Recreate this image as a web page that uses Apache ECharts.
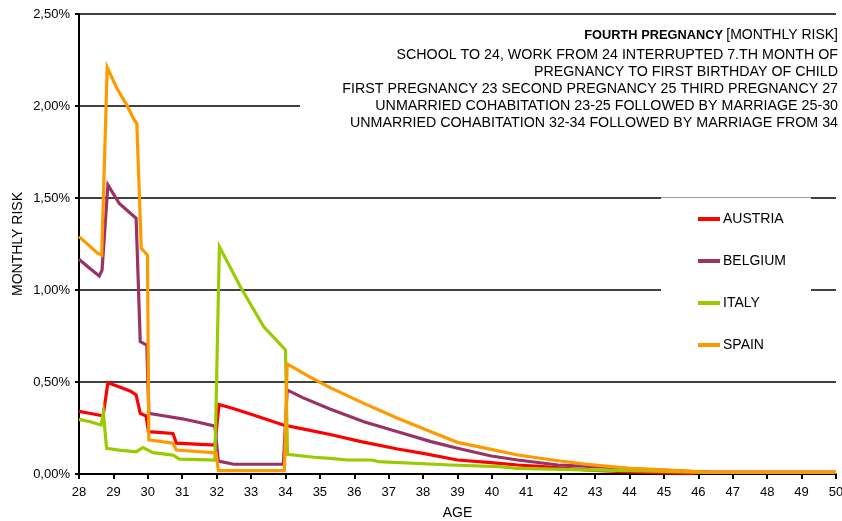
<!DOCTYPE html>
<html>
<head>
<meta charset="utf-8">
<script src="https://cdn.jsdelivr.net/npm/echarts@6/dist/echarts.min.js"></script>
<style>
html,body{margin:0;padding:0;background:#fff;}
#chart{width:842px;height:521px;}
</style>
</head>
<body>
<div id="chart"></div>
<script>
// ---- data (age in years, monthly risk in %) ----
const seriesNames = ['AUSTRIA', 'BELGIUM', 'ITALY', 'SPAIN'];

const austriaAge  = [28.0, 28.3, 28.64, 28.70, 28.84, 29.2, 29.5, 29.66, 29.78, 29.95, 30.02, 30.4, 30.73, 30.83, 31.4, 31.95, 32.07, 32.5, 33.0, 33.94, 34.5, 35.3, 36.2, 37.26, 38.0, 39.0, 39.98, 40.75, 41.5, 42.3, 43.0, 44.0, 45.0, 45.8, 46.0, 50.0];
const austriaRisk = [0.340, 0.330, 0.318, 0.315, 0.496, 0.472, 0.450, 0.430, 0.330, 0.315, 0.230, 0.225, 0.220, 0.168, 0.162, 0.157, 0.378, 0.355, 0.325, 0.266, 0.245, 0.215, 0.176, 0.136, 0.112, 0.076, 0.062, 0.049, 0.040, 0.028, 0.020, 0.012, 0.006, 0.003, 0.009, 0.009];

const belgiumAge  = [28.0, 28.3, 28.59, 28.67, 28.84, 29.17, 29.66, 29.78, 29.97, 30.03, 30.5, 31.0, 31.5, 31.95, 32.05, 32.5, 33.94, 34.05, 34.5, 35.31, 36.28, 37.26, 38.23, 39.0, 39.98, 40.75, 41.92, 43.0, 44.0, 45.0, 46.3, 50.0];
const belgiumRisk = [1.167, 1.120, 1.076, 1.108, 1.571, 1.470, 1.390, 0.720, 0.700, 0.330, 0.315, 0.300, 0.280, 0.260, 0.070, 0.053, 0.053, 0.457, 0.415, 0.352, 0.284, 0.230, 0.176, 0.140, 0.098, 0.076, 0.049, 0.040, 0.030, 0.020, 0.010, 0.009];

const italyAge  = [28.0, 28.3, 28.64, 28.71, 28.80, 29.17, 29.66, 29.86, 30.15, 30.73, 30.92, 31.5, 31.95, 32.08, 32.69, 33.37, 34.0, 34.06, 34.83, 35.31, 35.8, 36.5, 36.7, 38.8, 40.2, 40.75, 42.7, 44.0, 45.0, 46.3, 50.0];
const italyRisk = [0.297, 0.285, 0.266, 0.333, 0.140, 0.130, 0.121, 0.143, 0.116, 0.103, 0.081, 0.078, 0.076, 1.235, 1.018, 0.800, 0.674, 0.107, 0.091, 0.085, 0.076, 0.076, 0.067, 0.049, 0.040, 0.031, 0.022, 0.018, 0.014, 0.009, 0.009];

const spainAge  = [28.0, 28.54, 28.66, 28.82, 29.1, 29.39, 29.58, 29.68, 29.81, 29.99, 30.03, 30.73, 30.83, 31.9, 31.98, 32.05, 33.97, 34.05, 34.73, 35.31, 36.28, 37.26, 38.23, 39.0, 39.98, 40.75, 41.92, 42.7, 44.0, 45.0, 46.3, 50.0];
const spainRisk = [1.290, 1.200, 1.190, 2.210, 2.096, 2.005, 1.933, 1.906, 1.227, 1.190, 0.185, 0.167, 0.130, 0.116, 0.116, 0.018, 0.018, 0.598, 0.525, 0.468, 0.384, 0.303, 0.230, 0.172, 0.134, 0.103, 0.072, 0.054, 0.031, 0.022, 0.009, 0.009];

const titleMain = 'FOURTH PREGNANCY';
const titleNote = '[MONTHLY RISK]';
const subtitleLines = [
  'SCHOOL TO 24, WORK FROM 24 INTERRUPTED 7.TH MONTH OF',
  'PREGNANCY TO FIRST BIRTHDAY OF CHILD',
  'FIRST PREGNANCY 23 SECOND PREGNANCY 25 THIRD PREGNANCY 27',
  'UNMARRIED COHABITATION 23-25 FOLLOWED BY MARRIAGE 25-30',
  'UNMARRIED COHABITATION 32-34 FOLLOWED BY MARRIAGE FROM 34'
];
const xAxisName = 'AGE';
const yAxisName = 'MONTHLY RISK';

// ---- chart ----
const FONT = '"Liberation Sans", Arial, sans-serif';
const colors = ['#ff0000', '#993366', '#99cc00', '#ff9900'];
const ages = [austriaAge, belgiumAge, italyAge, spainAge];
const risks = [austriaRisk, belgiumRisk, italyRisk, spainRisk];

function pairs(a, r) { return a.map((v, i) => [v, r[i]]); }

const textElements = [
  {
    type: 'text', z: 5, x: 838, y: 35,
    style: {
      text: '{b|' + titleMain + '} {n|' + titleNote + '}',
      align: 'right', verticalAlign: 'middle',
      rich: {
        b: {fontFamily: FONT, fontSize: 12.8, fontWeight: 'bold', fill: '#000'},
        n: {fontFamily: FONT, fontSize: 14, fill: '#000'}
      }
    }
  }
].concat(subtitleLines.map((t, i) => ({
  type: 'text', z: 5, x: 838, y: 55 + i * 17,
  style: {text: t, align: 'right', verticalAlign: 'middle', fontFamily: FONT, fontSize: 14.25, fill: '#000'}
})));

const chart = echarts.init(document.getElementById('chart'), null, {renderer: 'canvas'});
chart.setOption({
  animation: false,
  backgroundColor: '#ffffff',
  color: colors,
  textStyle: {fontFamily: FONT, color: '#000'},
  grid: {left: 79, right: 6, top: 14, bottom: 47, containLabel: false, outerBoundsMode: 'none'},
  graphic: {
    elements: [
      {type: 'rect', z: 1, shape: {x: 300, y: 20, width: 542, height: 116}, style: {fill: '#ffffff'}},
      {type: 'rect', z: 1, shape: {x: 661, y: 196, width: 150, height: 171}, style: {fill: '#ffffff'}},
      {type: 'line', z: 2, shape: {x1: 661, y1: 197.5, x2: 811, y2: 197.5}, style: {stroke: '#9a9a9a', lineWidth: 1}}
    ].concat(textElements)
  },
  legend: {
    orient: 'vertical',
    left: 693,
    top: 207,
    itemGap: 28,
    itemWidth: 22,
    itemHeight: 4,
    icon: 'rect',
    textStyle: {fontFamily: FONT, fontSize: 14, color: '#000', padding: [0, 0, 0, -2]},
    data: seriesNames
  },
  xAxis: {
    type: 'value',
    min: 28, max: 50, interval: 1,
    name: xAxisName,
    nameLocation: 'middle',
    nameGap: 32,
    nameTextStyle: {fontFamily: FONT, fontSize: 14, color: '#000'},
    axisLine: {show: true, onZero: false, lineStyle: {color: '#000', width: 2}},
    axisTick: {show: true, length: 5, lineStyle: {color: '#000', width: 2}},
    axisLabel: {fontFamily: FONT, fontSize: 13, color: '#000', margin: 12},
    splitLine: {show: false}
  },
  yAxis: {
    type: 'value',
    min: 0, max: 2.5, interval: 0.5,
    name: yAxisName,
    nameLocation: 'middle',
    nameGap: 54,
    nameMoveOverlap: false,
    nameTextStyle: {fontFamily: FONT, fontSize: 14, color: '#000'},
    axisLine: {show: true, lineStyle: {color: '#000', width: 2}},
    axisTick: {show: true, length: 4, lineStyle: {color: '#000', width: 2}},
    axisLabel: {
      fontFamily: FONT, fontSize: 13, color: '#000', margin: 9,
      formatter: v => v.toFixed(2).replace('.', ',') + '%'
    },
    splitLine: {show: true, lineStyle: {color: '#000', width: 1.5}}
  },
  series: seriesNames.map((n, i) => ({
    name: n,
    type: 'line',
    data: pairs(ages[i], risks[i]),
    showSymbol: false,
    symbol: 'none',
    z: 2 + i,
    lineStyle: {width: 3.2, color: colors[i], join: 'miter'},
    itemStyle: {color: colors[i]}
  }))
});
</script>
</body>
</html>
